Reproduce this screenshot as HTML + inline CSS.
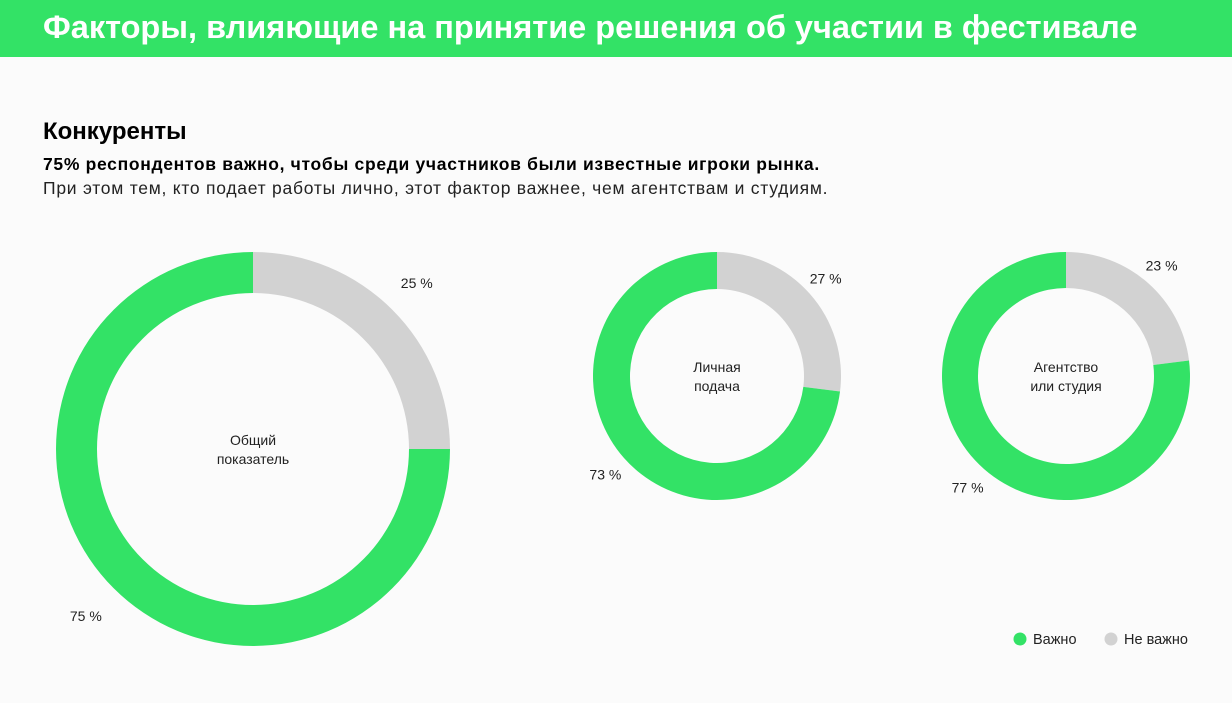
<!DOCTYPE html>
<html><head><meta charset="utf-8">
<style>
body{margin:0;width:1232px;height:703px;overflow:hidden;background:#fbfbfb;font-family:"Liberation Sans",sans-serif;position:relative}
.hdr{position:absolute;left:0;top:0;width:1232px;height:57px;background:#33e266}
.hdr span{position:absolute;left:43px;top:9px;color:#fff;font-weight:bold;font-size:32.5px;white-space:nowrap}
.t{position:absolute;left:43px;white-space:nowrap;color:#000}
svg{position:absolute;left:0;top:0}
</style></head><body>
<div class="hdr"><span>Факторы, влияющие на принятие решения об участии в фестивале</span></div>
<div class="t" style="top:118px;font-size:24px;font-weight:bold">Конкуренты</div>
<div class="t" style="top:154px;font-size:17.5px;letter-spacing:0.68px;font-weight:bold">75% респондентов важно, чтобы среди участников были известные игроки рынка.</div>
<div class="t" style="top:178px;font-size:17.5px;letter-spacing:0.75px;color:#222">При этом тем, кто подает работы лично, этот фактор важнее, чем агентствам и студиям.</div>
<svg id="c" width="1232" height="703"></svg>
<script>
const groups=["Общий|показатель","Личная|подача","Агентство|или студия"];
const important=[75,73,77];
const notImportant=[25,27,23];
const legendLabels=["Важно","Не важно"];
const NS="http://www.w3.org/2000/svg";
const svg=document.getElementById('c');
const layout=[{cx:253,cy:449,r:197,ir:156},{cx:717,cy:376,r:124,ir:87},{cx:1066,cy:376,r:124,ir:88}];
const GREEN="#33e266",GRAY="#d2d2d2";
function pt(cx,cy,r,f){const a=f*2*Math.PI-Math.PI/2;return [cx+r*Math.cos(a),cy+r*Math.sin(a)];}
function arc(l,f0,f1){const [x0,y0]=pt(l.cx,l.cy,l.r,f0),[x1,y1]=pt(l.cx,l.cy,l.r,f1),[x2,y2]=pt(l.cx,l.cy,l.ir,f1),[x3,y3]=pt(l.cx,l.cy,l.ir,f0);const lg=(f1-f0)>0.5?1:0;
return `M${x0},${y0}A${l.r},${l.r} 0 ${lg} 1 ${x1},${y1}L${x2},${y2}A${l.ir},${l.ir} 0 ${lg} 0 ${x3},${y3}Z`;}
function txt(x,y,s,size,anchor){const t=document.createElementNS(NS,'text');t.setAttribute('x',x);t.setAttribute('y',y);t.setAttribute('font-size',size);t.setAttribute('text-anchor',anchor||'middle');t.setAttribute('fill','#222');t.textContent=s;svg.appendChild(t);return t;}
groups.forEach((g,i)=>{const l=layout[i];const tot=important[i]+notImportant[i];const fg=notImportant[i]/tot;
const p1=document.createElementNS(NS,'path');p1.setAttribute('d',arc(l,0,fg));p1.setAttribute('fill',GRAY);


svg.appendChild(p1);
const p2=document.createElementNS(NS,'path');p2.setAttribute('d',arc(l,fg,1));p2.setAttribute('fill',GREEN);


svg.appendChild(p2);
const [a,b]=g.split('|');
const c1=txt(l.cx,l.cy-4,a,14);


const c2=txt(l.cx,l.cy+15,b,14);


const gm=fg/2, im=fg+(1-fg)/2;
const [gx,gy]=pt(l.cx,l.cy,l.r*1.19,gm);
const lg=txt(gx-2,gy+5,notImportant[i]+' %',14);


const [ix,iy]=pt(l.cx,l.cy,l.r*1.2,im);
const li=txt(ix,iy+5,important[i]+' %',14);


});
const lgColors=[GREEN,GRAY],lgX=[1020,1111];
legendLabels.forEach((s,i)=>{const c=document.createElementNS(NS,'circle');c.setAttribute('cx',lgX[i]);c.setAttribute('cy',639);c.setAttribute('r',6.5);c.setAttribute('fill',lgColors[i]);


svg.appendChild(c);
const t=txt(lgX[i]+13,644,s,14.5,'start');


});
</script>
</body></html>
